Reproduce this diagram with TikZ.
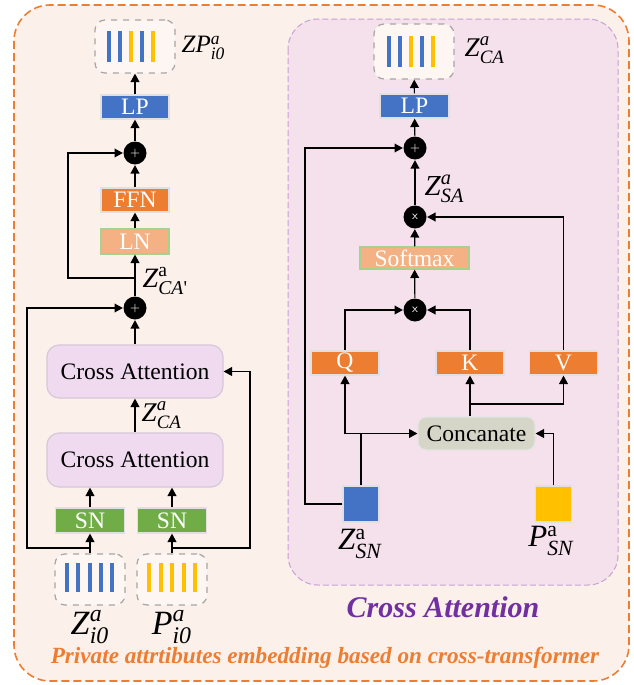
\documentclass[tikz,border=0pt]{standalone}
\usepackage{fontspec}
\setmainfont{Liberation Serif}
\usepackage{amsmath}
\usetikzlibrary{arrows.meta}

\definecolor{outerfill}{RGB}{251,240,234}
\definecolor{outerline}{RGB}{237,125,49}
\definecolor{innerfill}{RGB}{245,225,235}
\definecolor{innerline}{RGB}{200,160,215}
\definecolor{lpblue}{RGB}{68,114,196}
\definecolor{ffnorange}{RGB}{237,125,49}
\definecolor{lnorange}{RGB}{244,177,131}
\definecolor{lngreen}{RGB}{169,209,142}
\definecolor{sngreen}{RGB}{112,173,71}
\definecolor{cafill}{RGB}{239,218,239}
\definecolor{caline}{RGB}{215,200,215}
\definecolor{concfill}{RGB}{214,214,200}
\definecolor{baryellow}{RGB}{255,192,0}
\definecolor{titlepurple}{RGB}{112,48,160}

\newcommand{\vlab}[3]{\textit{#1}$^{#2}_{\textit{#3}}$}

\begin{document}
\begin{tikzpicture}[x=0.5pt, y=-0.5pt, line width=0.6pt,
    box/.style={rectangle, draw=black!12, text=white, inner sep=0pt, minimum width=34pt, minimum height=12pt, font=\fontsize{11.8}{12}\selectfont},
    lnbox/.style={box, fill=lnorange, draw=lngreen},
    roundbox/.style={rectangle, rounded corners=6pt, draw=caline, fill=cafill, inner sep=0pt, minimum width=88pt, minimum height=26.5pt, font=\fontsize{11.8}{12}\selectfont},
    vecbox/.style={rectangle, rounded corners=5pt, draw=black!35, dashed, fill=outerfill!60!white, minimum width=35pt, minimum height=25.5pt},
    opnode/.style={circle, fill=black, text=white, inner sep=0pt, minimum size=11.5pt, font=\fontsize{6}{6}\selectfont\sffamily},
    arr/.style={-{Triangle[length=4.2pt, width=4.4pt]}},
    lab/.style={font=\fontsize{#1}{#1}\selectfont, inner sep=0pt}
]
    \useasboundingbox (0,0) rectangle (633,685);

    % frames
    \draw[outerline, fill=outerfill, line width=0.8pt, dash pattern=on 4pt off 2pt, rounded corners=18pt] (14,5) rectangle (629,681);
    \draw[innerline, fill=innerfill, line width=0.5pt, dash pattern=on 3pt off 1.5pt, rounded corners=15pt] (288,19) rectangle (618,585);
    \node (title) [text=titlepurple, font=\fontsize{15}{16}\bfseries\itshape] at (443,607) {Cross Attention};
    \node (caption) [text=outerline, font=\fontsize{11.6}{12}\bfseries\itshape] at (325,658) {Private attrtibutes embedding based on cross-transformer};

    % Cross-transformer (left)
    \node (ZP) [vecbox, minimum width=40pt, minimum height=26.5pt] at (135,46.5) {};
    \foreach \x/\c in {109/lpblue, 120/lpblue, 131/baryellow, 142/lpblue, 153/baryellow}
        \fill[\c] (\x-2,31) rectangle (\x+2,62);
    \node (lZP) [lab=12.5pt, anchor=west] at (181,48) {\vlab{ZP}{\textit{a}}{i0}};

    \node (LP1) [box, fill=lpblue] at (135,107) {LP};
    \node (P1) [opnode] at (135,153) {+};
    \node (FFN) [box, fill=ffnorange] at (135,200) {FFN};
    \node (LN) [lnbox, minimum height=12.5pt] at (135,241.5) {LN};
    \node (P2) [opnode] at (135,308) {+};
    \node (lZCAp) [lab=14pt, anchor=west] at (142,281) {\vlab{Z}{\textup{a}}{CA\textup{\textquotesingle}}};

    \node (CA2) [roundbox] at (135,371.5) {Cross Attention};
    \node (CA1) [roundbox, minimum height=27pt] at (135,460) {Cross Attention};
    \node (lZCA1) [lab=13.5pt, anchor=west] at (141,415) {\vlab{Z}{\textit{a}}{CA}};

    \node (SN1) [box, fill=sngreen, minimum width=34.5pt, minimum height=12.5pt] at (90,520.5) {SN};
    \node (SN2) [box, fill=sngreen, minimum width=34.5pt, minimum height=12.5pt] at (172,520.5) {SN};

    \node (Zb) [vecbox] at (90,579.5) {};
    \foreach \x in {67,78,89.5,101,112}
        \fill[lpblue] (\x-2,563) rectangle (\x+2,592);
    \node (Pb) [vecbox] at (172,579.5) {};
    \foreach \x in {149,160.5,172,183.5,195}
        \fill[baryellow] (\x-2,563) rectangle (\x+2,592);
    \node (lZi) [lab=17pt] at (90,627) {\vlab{Z}{\textit{a}}{i0}};
    \node (lPi) [lab=17pt] at (172,627) {\vlab{P}{\textit{a}}{i0}};

    \coordinate (zsplit) at (90,548);
    \coordinate (zleft) at (27,548);
    \coordinate (psplit) at (172,548);
    \coordinate (pright) at (250,548);
    \coordinate (casplit) at (135,278);
    \coordinate (caleft) at (68,278);

    \draw[arr] (Zb) -- (SN1);
    \draw[arr] (Pb) -- (SN2);
    \draw[arr] (SN1) -- (SN1 |- CA1.south);
    \draw[arr] (SN2) -- (SN2 |- CA1.south);
    \draw[arr] (zsplit) -- (zleft) |- (P2);
    \draw[arr] (psplit) -- (pright) |- (CA2.east);
    \draw[arr] (CA1) -- (CA2);
    \draw[arr] (CA2) -- (P2);
    \draw[arr] (P2) -- (LN);
    \draw[arr] (casplit) -- (caleft) |- (P1);
    \draw[arr] (LN) -- (FFN);
    \draw[arr] (FFN) -- (P1);
    \draw[arr] (P1) -- (LP1);
    \draw[arr] (LP1) -- (ZP);

    % Cross Attention (right)
    \node (ZCA) [vecbox, minimum width=40pt, minimum height=27.5pt] at (414,51.5) {};
    \foreach \x/\c in {389/lpblue, 400/lpblue, 411/baryellow, 422/lpblue, 433/baryellow}
        \fill[\c] (\x-2,36) rectangle (\x+2,67);
    \node (lZCA2) [lab=13.5pt, anchor=west] at (464,50) {\vlab{Z}{\textit{a}}{CA}};

    \node (LP2) [box, fill=lpblue, minimum width=34.5pt] at (414.5,106) {LP};
    \node (P3) [opnode] at (415,148) {+};
    \node (X1) [opnode] at (415,217) {x};
    \node (lZSA) [lab=14.5pt, anchor=west] at (424,189) {\vlab{Z}{\textit{a}}{SA}};
    \node (Soft) [lnbox, minimum width=54.5pt, minimum height=11pt] at (414.5,258) {Softmax};
    \node (X2) [opnode] at (415,310) {x};

    \node (Q) [box, fill=ffnorange] at (345,363) {Q};
    \node (K) [box, fill=ffnorange] at (470,363) {K};
    \node (V) [box, fill=ffnorange] at (563.5,363) {V};

    \node (Conc) [rectangle, rounded corners=4pt, draw=black!10, fill=concfill, inner sep=0pt, minimum width=58.5pt, minimum height=16.5pt, font=\fontsize{11.8}{12}\selectfont] at (476.5,433.5) {Concanate};

    \node (ZSN) [rectangle, fill=lpblue, draw=black!12, minimum size=18pt, inner sep=0pt] at (361,504) {};
    \node (PSN) [rectangle, fill=baryellow, draw=black!12, minimum size=18pt, inner sep=0pt] at (553.5,504) {};
    \node (lZSN) [lab=15.5pt] at (360,544) {\vlab{Z}{\textup{a}}{SN}};
    \node (lPSN) [lab=15.5pt] at (551,541) {\vlab{P}{\textup{a}}{SN}};

    \coordinate (zsnleft) at (305,504);
    \coordinate (kvsplit) at (470,404);

    \draw (ZSN.north) -- (ZSN.north |- Conc.west);
    \draw[arr] (Q |- Conc.west) -- (Conc.west);
    \draw[arr] (Q |- Conc.west) -- (Q.south);
    \draw[arr] (PSN.north) |- (Conc.east);
    \draw[arr] (K |- Conc.north) -- (K.south);
    \draw[arr] (kvsplit) -| (V.south);
    \draw[arr] (ZSN.west) -- (zsnleft) |- (P3);
    \draw[arr] (Q.north) |- (X2.west);
    \draw[arr] (K.north) |- (X2.east);
    \draw[arr] (X2) -- (Soft);
    \draw[arr] (Soft) -- (X1);
    \draw[arr] (V.north) |- (X1.east);
    \draw[arr] (X1) -- (P3);
    \draw[arr] (P3) -- (LP2);
    \draw[arr] (LP2) -- (ZCA);
\end{tikzpicture}
\end{document}
